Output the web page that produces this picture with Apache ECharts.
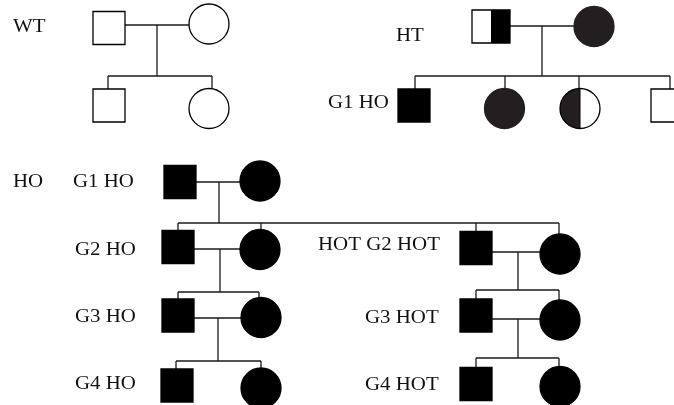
<!DOCTYPE html>
<html><head><meta charset="utf-8">
<script src="https://cdn.jsdelivr.net/npm/echarts@6/dist/echarts.min.js"></script>
<style>html,body{margin:0;padding:0;background:#fff}#c{width:674px;height:405px}</style>
</head><body><div id="c"></div>
<script>
// Pedigree individuals: [x, y, status]  (status: open | full | dark | half)
const males = [
  [109, 28, 'open'], [109, 105.5, 'open'],                 // WT
  [491, 26.5, 'half'], [414, 105.5, 'full'], [667, 105.5, 'open'], // HT
  [180, 182, 'full'], [178, 247, 'full'], [178, 315.5, 'full'], [177, 385.5, 'full'], // HO
  [476, 248, 'full'], [476, 315.5, 'full'], [476, 384, 'full']  // HOT
];
const females = [
  [209, 24, 'open'], [209, 108.5, 'open'],                 // WT
  [594, 26.5, 'dark'], [504.5, 108.5, 'dark'], [580, 108.5, 'half'], // HT
  [260, 181, 'full'], [260, 249.5, 'full'], [261, 317.5, 'full'], [261, 388, 'full'], // HO
  [560, 254, 'full'], [560, 320, 'full'], [560, 386.5, 'full']  // HOT
];
// Relationship / descent lines: [x1, y1, x2, y2]
const links = [
  [125, 25, 189, 25], [157, 25, 157, 76], [108, 76, 212, 76], [108, 76, 108, 89], [212, 76, 212, 89],
  [510, 26, 574, 26], [542, 26, 542, 76], [415, 76, 670, 76],
  [415, 76, 415, 89], [505, 76, 505, 88], [579, 76, 579, 88], [670, 76, 670, 89],
  [196, 182, 240, 182], [219, 182, 219, 223], [178, 223, 559, 223],
  [178, 223, 178, 231], [261, 223, 261, 232], [476, 223, 476, 232], [559, 223, 559, 235],
  [193, 249, 241, 249], [220, 249, 220, 292], [178, 292, 259, 292], [178, 292, 178, 299], [259, 292, 259, 301],
  [193, 318, 242, 318], [218, 318, 218, 361], [176, 361, 261, 361], [176, 361, 176, 369], [261, 361, 261, 373],
  [492, 252, 541, 252], [518, 252, 518, 290], [476, 290, 559, 290], [476, 290, 476, 299], [559, 290, 559, 300],
  [492, 319, 541, 319], [518, 319, 518, 358], [476, 358, 559, 358], [476, 358, 476, 368], [559, 358, 559, 367]
];
// Text labels: [text, x(left), y(middle)]
const labelTexts = ['WT', 'HT', 'G1 HO', 'HO', 'G1 HO', 'G2 HO', 'G3 HO', 'G4 HO', 'HOT G2 HOT', 'G3 HOT', 'G4 HOT'];
const labelX = [13, 396, 328, 13, 73, 75, 75, 75, 318, 365, 365];
const labelY = [27, 36, 103, 182, 182, 250, 317, 384, 245, 318, 385];

const fillOf = s => s === 'full' ? '#000' : (s === 'dark' ? '#231f20' : '#fff');
const chart = echarts.init(document.getElementById('c'));
chart.setOption({
  animation: false,
  grid: {left: 0, right: 0, top: 0, bottom: 0},
  xAxis: {type: 'value', min: 0, max: 674, show: false},
  yAxis: {type: 'value', min: 0, max: 405, inverse: true, show: false},
  series: [
    {
      type: 'custom', z: 1, clip: false,
      data: links,
      encode: {x: [0, 2], y: [1, 3]},
      renderItem(params, api) {
        const a = api.coord([api.value(0), api.value(1)]);
        const b = api.coord([api.value(2), api.value(3)]);
        return {type: 'line', shape: {x1: a[0], y1: a[1], x2: b[0], y2: b[1]},
          style: {stroke: '#1a1a1a', lineWidth: 1.3}};
      }
    },
    {
      type: 'custom', z: 2, clip: false,
      data: males.map(d => [d[0], d[1]]),
      encode: {x: 0, y: 1},
      renderItem(params, api) {
        const c = api.coord([api.value(0), api.value(1)]);
        const s = males[params.dataIndex][2];
        const w = s === 'half' ? 38 : 32, h = 33;
        const x0 = c[0] - w / 2, y0 = c[1] - h / 2;
        const ch = [{type: 'rect', shape: {x: x0, y: y0, width: w, height: h}, style: {fill: fillOf(s)}}];
        if (s === 'half') ch.push({type: 'rect', shape: {x: c[0], y: y0, width: w / 2, height: h}, style: {fill: '#000'}});
        ch.push({type: 'rect', shape: {x: x0, y: y0, width: w, height: h}, style: {fill: 'none', stroke: '#000', lineWidth: 1.3}});
        return {type: 'group', children: ch};
      }
    },
    {
      type: 'custom', z: 2, clip: false,
      data: females.map(d => [d[0], d[1]]),
      encode: {x: 0, y: 1},
      renderItem(params, api) {
        const c = api.coord([api.value(0), api.value(1)]);
        const s = females[params.dataIndex][2];
        const r = 20;
        const ch = [{type: 'circle', shape: {cx: c[0], cy: c[1], r: r}, style: {fill: fillOf(s)}}];
        if (s === 'half') ch.push({type: 'sector', shape: {cx: c[0], cy: c[1], r0: 0, r: r, startAngle: Math.PI / 2, endAngle: Math.PI * 1.5, clockwise: true}, style: {fill: '#231f20'}});
        ch.push({type: 'circle', shape: {cx: c[0], cy: c[1], r: r}, style: {fill: 'none', stroke: s === 'open' || s === 'half' ? '#000' : fillOf(s), lineWidth: 1.3}});
        if (s === 'half') ch.push({type: 'line', shape: {x1: c[0], y1: c[1] - r, x2: c[0], y2: c[1] + r}, style: {stroke: '#000', lineWidth: 1}});
        return {type: 'group', children: ch};
      }
    },
    {
      type: 'custom', z: 3, clip: false,
      data: labelTexts.map((t, i) => [labelX[i], labelY[i]]),
      encode: {x: 0, y: 1},
      renderItem(params, api) {
        const c = api.coord([api.value(0), api.value(1)]);
        return {type: 'text', x: c[0], y: c[1], scaleX: 1.1,
          style: {text: labelTexts[params.dataIndex], fill: '#111', font: '19px "Liberation Serif"',
            align: 'left', verticalAlign: 'middle'}};
      }
    }
  ]
});
</script></body></html>
